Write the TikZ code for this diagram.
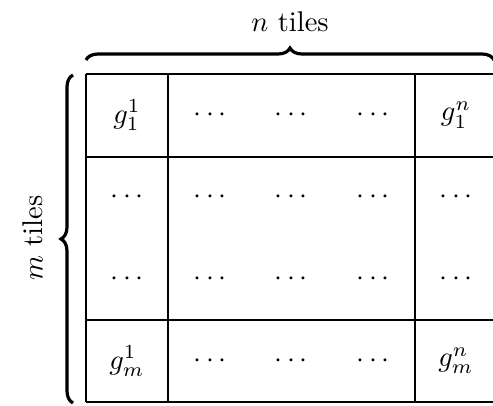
\documentclass[tikz,border=0pt]{standalone}
\usetikzlibrary{decorations.pathreplacing}
\begin{document}
\begin{tikzpicture}[x=1pt,y=-1pt,
  gridline/.style={line width=1.6pt},
  bracepath/.style={decorate,decoration={brace,amplitude=12pt},line width=3.2pt},
  lbl/.style={scale=2.85,inner sep=0pt}]
\useasboundingbox (0,0) rectangle (493,405);
% grid
\draw[gridline] (86,74) -- (500,74);
\draw[gridline] (86,157) -- (500,157);
\draw[gridline] (86,320) -- (500,320);
\draw[gridline] (86,402) -- (500,402);
\draw[gridline] (86,74) -- (86,402);
\draw[gridline] (168,74) -- (168,402);
\draw[gridline] (415,74) -- (415,402);
\draw[gridline] (497,74) -- (497,402);
% first row
\node[lbl] (g11) at (127,115) {$g_1^1$};
\node[lbl] (r1b) at (210,115) {$\cdots$};
\node[lbl] (r1c) at (291,115) {$\cdots$};
\node[lbl] (r1d) at (373,115) {$\cdots$};
\node[lbl] (g1n) at (456,115) {$g_1^n$};
% middle rows
\foreach \x/\n in {127/a,210/b,291/c,373/d,456/e}{
  \node[lbl] (r2\n) at (\x,197) {$\cdots$};
  \node[lbl] (r3\n) at (\x,279) {$\cdots$};
}
% last row
\node[lbl] (gm1) at (127,361) {$g_m^1$};
\node[lbl] (r4b) at (210,361) {$\cdots$};
\node[lbl] (r4c) at (291,361) {$\cdots$};
\node[lbl] (r4d) at (373,361) {$\cdots$};
\node[lbl] (gmn) at (456,361) {$g_m^n$};
% braces
\coordinate (bt1) at (86,60);
\coordinate (bt2) at (494,60);
\draw[bracepath] (bt1) -- (bt2);
\coordinate (bl1) at (73,403);
\coordinate (bl2) at (73,75);
\draw[bracepath] (bl1) -- (bl2);
\node[lbl] (ntiles) at (290,22) {$n$ tiles};
\node[lbl,rotate=90] (mtiles) at (33,238) {$m$ tiles};
\end{tikzpicture}
\end{document}
